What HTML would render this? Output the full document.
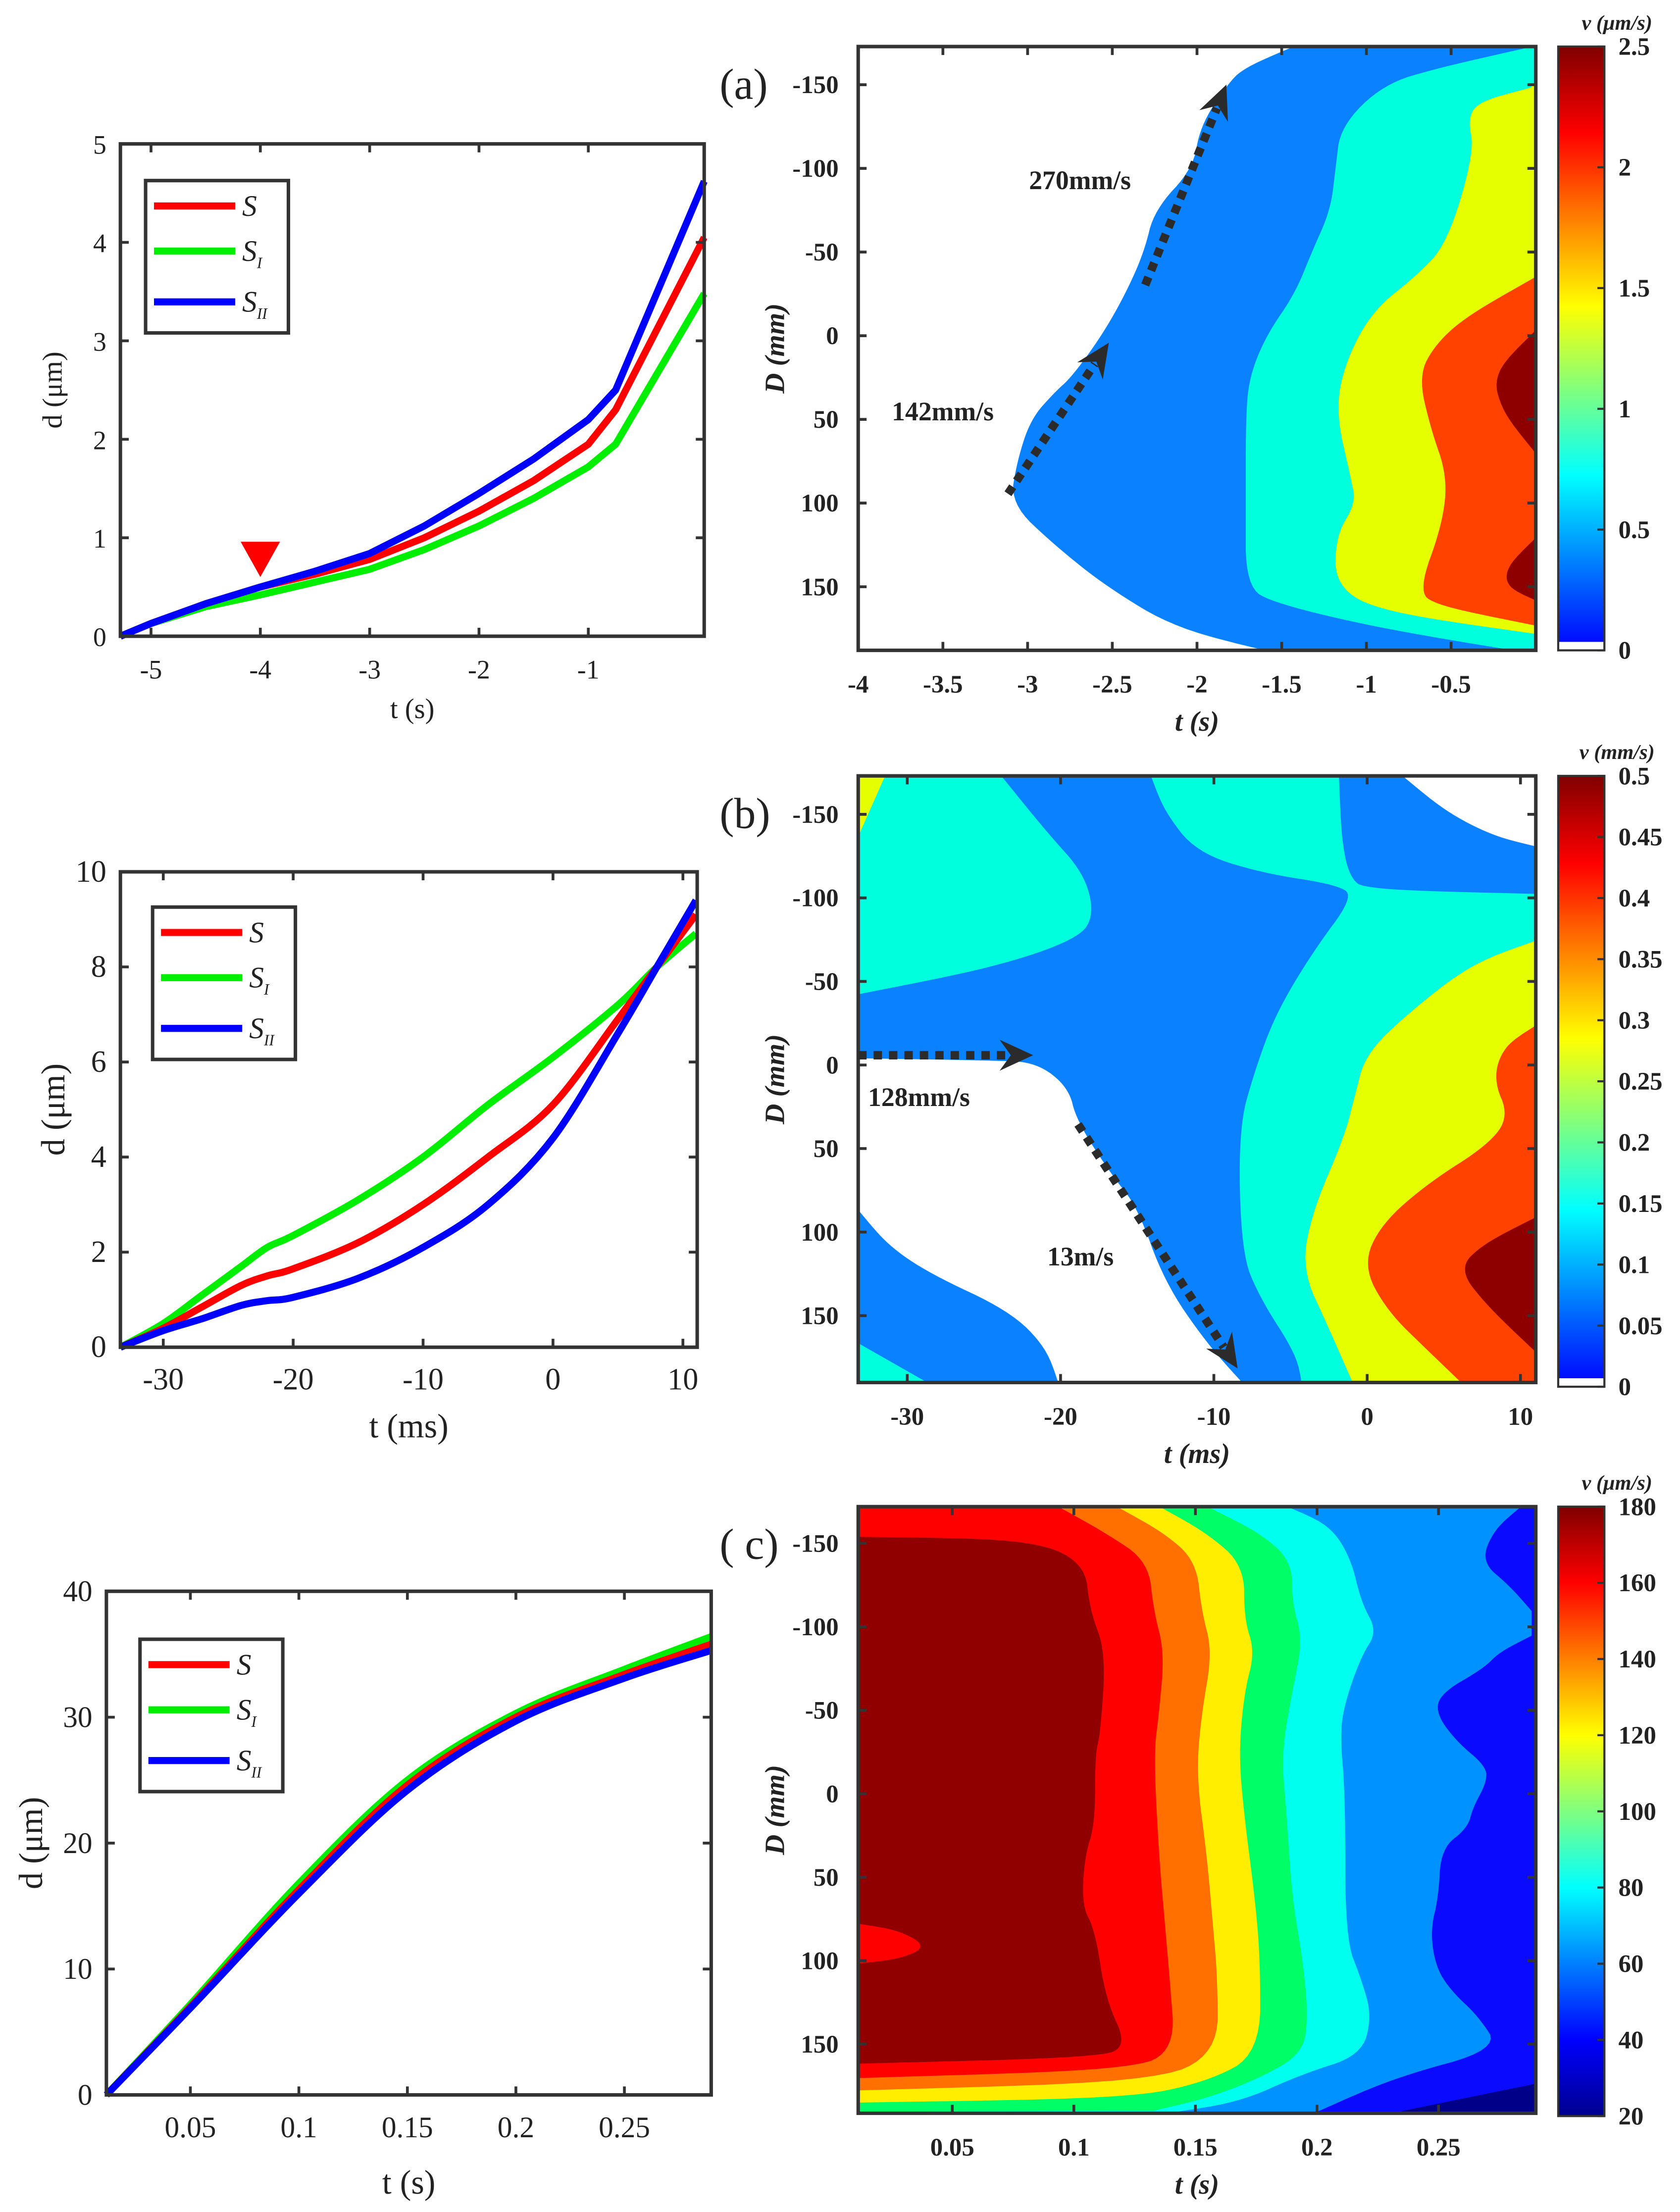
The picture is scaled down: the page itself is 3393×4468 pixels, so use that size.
<!DOCTYPE html>
<html><head><meta charset="utf-8">
<style>
html,body{margin:0;padding:0;background:#fff;}
svg{display:block;}
text{font-family:"Liberation Serif","Times New Roman",serif;fill:#222;}
</style></head>
<body>
<svg id="root" width="3393" height="4468" viewBox="0 0 1200 1568" preserveAspectRatio="none" xmlns="http://www.w3.org/2000/svg">
<defs>
<linearGradient id="jetA" x1="0" y1="1" x2="0" y2="0">
<stop offset="0" stop-color="#0000ff"/><stop offset="0.29" stop-color="#00ffff"/><stop offset="0.57" stop-color="#ffff00"/><stop offset="0.857" stop-color="#ff0000"/><stop offset="1" stop-color="#800000"/>
</linearGradient>
<linearGradient id="jetC" x1="0" y1="1" x2="0" y2="0">
<stop offset="0" stop-color="#00008f"/><stop offset="0.125" stop-color="#0000ff"/><stop offset="0.375" stop-color="#00ffff"/><stop offset="0.625" stop-color="#ffff00"/><stop offset="0.875" stop-color="#ff0000"/><stop offset="1" stop-color="#800000"/>
</linearGradient>
<clipPath id="clipA"><rect x="613" y="33" width="484" height="428"/></clipPath>
<clipPath id="clipB"><rect x="613" y="550" width="484" height="430"/></clipPath>
<clipPath id="clipC"><rect x="613" y="1068" width="484" height="430"/></clipPath>
</defs>
</svg>
<script>
// ---------- line chart data ----------
const l1T   = [-5.28,-5,-4.5,-4,-3.5,-3,-2.5,-2,-1.5,-1,-0.75,0.06];
const l1S   = [0,0.13,0.33,0.5,0.63,0.78,1.0,1.27,1.58,1.95,2.3,4.05];
const l1SI  = [0,0.13,0.3,0.42,0.55,0.68,0.88,1.12,1.4,1.72,1.95,3.48];
const l1SII = [0,0.13,0.33,0.5,0.66,0.84,1.12,1.45,1.8,2.2,2.5,4.62];
const l1XTicks = [-5,-4,-3,-2,-1];
const l1YTicks = [0,1,2,3,4,5];

const l2T   = [-33.3,-30,-27,-24,-22,-20,-15,-10,-5,0,5,8,11];
const l2S   = [0,0.4,0.85,1.3,1.5,1.65,2.2,3.0,4.0,5.1,6.9,8.0,9.1];
const l2SI  = [0,0.5,1.1,1.7,2.1,2.35,3.1,4.0,5.1,6.1,7.2,8.0,8.7];
const l2SII = [0,0.35,0.6,0.88,0.98,1.05,1.45,2.1,3.0,4.4,6.6,8.0,9.4];
const l2XTicks = [-30,-20,-10,0,10];
const l2YTicks = [0,2,4,6,8,10];

const l3T   = [0.0113,0.05,0.1,0.15,0.2,0.25,0.29];
const l3S   = [0,7,16.3,24.6,30,33.4,35.8];
const l3SI  = [0,7.2,16.8,25.0,30.3,33.8,36.4];
const l3SII = [0,6.9,16.0,24.2,29.7,33.1,35.3];
const l3XTicks = [0.05,0.1,0.15,0.2,0.25];
const l3YTicks = [0,10,20,30,40];

// ---------- contour panel (a) boundaries: t at D ----------
const aBlueD = [-173,-160,-150,-125,-100,-75,-50,-25,0,25,34,50,75,100,125,150,175,190];
const aBlueT = [-1.42,-1.72,-1.82,-1.98,-2.02,-2.25,-2.31,-2.42,-2.56,-2.74,-2.84,-2.98,-3.06,-3.10,-2.84,-2.53,-2.12,-1.51];
const aCyanD = [-173,-160,-150,-125,-100,-75,-50,-25,0,25,50,100,150,160,175,190];
const aCyanT = [0,-0.57,-0.90,-1.15,-1.18,-1.21,-1.32,-1.42,-1.59,-1.69,-1.71,-1.71,-1.71,-1.53,-0.90,0];
const aYelD = [-152,-148,-140,-130,-110,-55,-35,-15,15,45,85,100,120,150,165,178];
const aYelT = [0,-0.03,-0.33,-0.40,-0.36,-0.52,-0.71,-0.96,-1.12,-1.18,-1.09,-1.06,-1.18,-1.18,-0.90,0];
const aOrD = [-35,-12,5,24,55,84,113,152,161,173];
const aOrT = [0,-0.40,-0.59,-0.69,-0.62,-0.52,-0.55,-0.69,-0.59,0];
const aDr1D = [-3,22,45,70];
const aDr1T = [0,-0.25,-0.2,0];
const aDr2D = [121,138,150,158];
const aDr2T = [0,-0.17,-0.17,0];
const aXTicks = [-4,-3.5,-3,-2.5,-2,-1.5,-1,-0.5];
const dTicks = [-150,-100,-50,0,50,100,150];
const aCbTicks = [0,0.5,1,1.5,2,2.5];

// ---------- contour panel (b) polygons ----------
const bBlueT = [-23.84,-14.13,-13.26,-11.18,-7.02,-1.82,-0.95,-3.55,-5.98,-7.37,-8.41,-8.23,-7.02,-4.59,-4.25,-33.2,-33.2,-24.36,-18.81,-17.77,-18.46,-20.89];
const bBlueD = [-173,-173,-152,-127.3,-114.9,-107.5,-100.1,-68,-30.9,3.7,38.2,112.3,139.5,174.1,193,193,-42.1,-58.1,-75.4,-90.2,-114.9,-139.6];
const bWhiteT = [-33.2,-24.36,-21.58,-19.50,-18.98,-16.73,-15.0,-13.26,-10.49,-7.89,-20.02,-20.89,-23.32,-28.52,-31.29,-33.2];
const bWhiteD = [-3.8,-2.5,-1.3,13.5,33.3,65.4,85.2,129.6,166.7,193,193,169.2,146.9,124.7,107.4,86.4];
const bCornerT = [-33.2,-28.17,-33.2];
const bCornerD = [166.7,193,193];
const bBlueTRT = [-1.82,2.34,5.11,8.24,11.01,11.01,-0.09,-1.13,-1.65];
const bBlueTRD = [-173,-173,-152,-137.2,-131,-102.6,-105.1,-112.5,-134.7];
const bWhiteTRT = [2.34,11.01,11.01,8.24,5.11];
const bWhiteTRD = [-173,-173,-131,-137.2,-152];
const bYelTLT = [-33.2,-31.47,-33.2];
const bYelTLD = [-173,-173,-137.2];
const bYelT = [11.01,6.85,2.69,-0.09,-0.78,-1.47,-3.55,-4.25,-2.51,-0.78,11.01];
const bYelD = [-74.2,-60.6,-30.9,-6.2,18.5,43.2,87.6,122.2,156.8,193,193];
const bOrT = [11.01,8.93,8.24,9.28,7.89,4.07,0.95,-0.26,1.3,4.07,6.5,11.01];
const bOrD = [-23.5,-11.2,8.6,30.8,48.1,70.3,95,119.8,146.9,171.6,193,193];
const bDrT = [11.01,7.54,5.98,7.89,11.01];
const bDrD = [91.3,107.4,122.2,144.5,171.6];
const bXTicks = [-30,-20,-10,0,10];
const bCbTicks = [0,0.05,0.1,0.15,0.2,0.25,0.3,0.35,0.4,0.45,0.5];

// ---------- contour panel (c) polygons ----------
const cNavyT = [0.2312,0.2903,0.2903];
const cNavyD = [191.4,173.8,191.4];
const cLbT = [0.0113,0.2837,0.2728,0.2673,0.2793,0.2881,0.2881,0.2749,0.2684,0.2509,0.2487,0.2574,0.2695,0.2695,0.2640,0.2618,0.2509,0.2498,0.2465,0.2487,0.2553,0.2662,0.2749,0.2312,0.1984,0.0113];
const cLbD = [-172,-172,-158.6,-139,-124.2,-109.5,-94.8,-85,-75.2,-60.5,-48.2,-31,-16.3,-6.5,8.2,20.5,32.7,62.2,81.8,103.9,118.6,133.3,152.9,170.1,191.4,191.4];
const cCyT = [0.0113,0.1874,0.2049,0.2137,0.2181,0.2246,0.2181,0.2115,0.2093,0.2115,0.2115,0.2181,0.2224,0.2181,0.1940,0.1677,0.1371,0.0113];
const cCyD = [-172,-172,-161,-141.4,-114.4,-97.3,-82.5,-55.6,-35.9,0.8,86.7,111.2,133.3,156.6,167.6,184.8,191.4,191.4];
const cGrT = [0.0113,0.1546,0.1765,0.1896,0.1896,0.1940,0.1896,0.1852,0.1874,0.1896,0.1940,0.1962,0.1940,0.1765,0.1546,0.1327,0.0113];
const cGrD = [-172,-172,-156.1,-139,-114.4,-92.4,-60.5,-23.7,13.1,62.2,99,133.3,155.4,170.1,182.3,189.7,190.2];
const cYeT = [0.0113,0.1349,0.1546,0.1699,0.1699,0.1743,0.1699,0.1677,0.1699,0.1743,0.1765,0.1765,0.1546,0.1218,0.0113];
const cYeD = [-172,-172,-156.1,-136.5,-104.6,-85,-60.5,-23.7,13.1,62.2,99,155.4,172.5,182.3,184.8];
const cOrT = [0.0113,0.1174,0.1371,0.1502,0.1524,0.1568,0.1524,0.1502,0.1546,0.1568,0.1590,0.1590,0.1327,0.0113];
const cOrD = [-172,-172,-156.1,-139,-109.5,-85,-48.2,-11.4,37.6,74.4,111.2,155.4,172.5,177.5];
const cReT = [0.0113,0.0933,0.1130,0.1305,0.1327,0.1371,0.1349,0.1327,0.1349,0.1371,0.1393,0.1415,0.1240,0.0113];
const cReD = [-172,-172,-156.1,-139,-109.5,-85,-48.2,-23.7,37.6,74.4,111.2,152.9,165.2,170.1];
const cDrT = [0.0113,0.0802,0.1043,0.1065,0.1130,0.1108,0.1086,0.1086,0.1043,0.1032,0.1086,0.1130,0.1218,0.1108,0.0113];
const cDrD = [-153.7,-152.5,-139,-109.5,-85,-35.9,-23.7,18,37.6,67.1,81.8,123.5,150.5,157.8,161.5];
const cIsT = [0.0113,0.0277,0.0397,0.0277,0.0113];
const cIsD = [78.1,81.8,91.6,99,101.4];
const cXTicks = [0.05,0.1,0.15,0.2,0.25];
const cCbTicks = [20,40,60,80,100,120,140,160,180];

// ---------- helpers ----------
const NS = 'http://www.w3.org/2000/svg';
const FONT = '"Liberation Serif", "Times New Roman", serif';
const root = document.getElementById('root');
function mk(tag, attrs, parent){
  const e = document.createElementNS(NS, tag);
  for (const k in attrs) e.setAttribute(k, attrs[k]);
  (parent||root).appendChild(e);
  return e;
}
function scale(d0,d1,p0,p1){ return v => p0 + (v-d0)/(d1-d0)*(p1-p0); }
function txt(x,y,s,size,opts,parent){
  const e = mk('text', Object.assign({x:x,y:y,'font-size':size}, opts||{}), parent);
  e.style.fontFamily = FONT;
  e.textContent = s;
  return e;
}
function smoothPath(P){
  let d = 'M'+P[0][0].toFixed(2)+','+P[0][1].toFixed(2);
  for (let i=0;i<P.length-1;i++){
    const p0=P[Math.max(i-1,0)], p1=P[i], p2=P[i+1], p3=P[Math.min(i+2,P.length-1)];
    const c1=[p1[0]+(p2[0]-p0[0])/6, p1[1]+(p2[1]-p0[1])/6];
    const c2=[p2[0]-(p3[0]-p1[0])/6, p2[1]-(p3[1]-p1[1])/6];
    d += 'C'+c1[0].toFixed(2)+','+c1[1].toFixed(2)+' '+c2[0].toFixed(2)+','+c2[1].toFixed(2)+' '+p2[0].toFixed(2)+','+p2[1].toFixed(2);
  }
  return d;
}
function linePath(P){ return P.map((p,i)=>(i?'L':'M')+p[0].toFixed(2)+','+p[1].toFixed(2)).join(''); }

// ---------- line chart ----------
function lineChart(cfg){
  const g = mk('g', {});
  
  
  const sx = scale(cfg.tmin,cfg.tmax,cfg.x0,cfg.x1);
  const sy = scale(cfg.dmin,cfg.dmax,cfg.y1,cfg.y0);
  const series = [[cfg.S,'#ff0000','series-s'],[cfg.SI,'#00ee00','series-s1'],[cfg.SII,'#0000ff','series-s2']];
  for (const i of [1,0,2]){
    const [vals,col,nm] = series[i];
    const P = cfg.T.map((t,k)=>[sx(t), sy(vals[k])]);
    const p = mk('path', {d:cfg.linear?linePath(P):smoothPath(P), fill:'none', stroke:col, 'stroke-width':5, 'stroke-linejoin':'round'}, g);
    
    
  }
  const box = mk('rect', {x:cfg.x0,y:cfg.y0,width:cfg.x1-cfg.x0,height:cfg.y1-cfg.y0,fill:'none',stroke:'#333','stroke-width':2.5}, g);
  
  
  cfg.xt.forEach(v=>{
    const x = sx(v);
    mk('line',{x1:x,x2:x,y1:cfg.y1,y2:cfg.y1-6,stroke:'#333','stroke-width':2},g);
    mk('line',{x1:x,x2:x,y1:cfg.y0,y2:cfg.y0+6,stroke:'#333','stroke-width':2},g);
    const t = txt(x, cfg.y1+30, String(v), cfg.tickSize, {'text-anchor':'middle'}, g);
    
    
  });
  cfg.yt.forEach(v=>{
    const y = sy(v);
    mk('line',{x1:cfg.x0,x2:cfg.x0+6,y1:y,y2:y,stroke:'#333','stroke-width':2},g);
    mk('line',{x1:cfg.x1,x2:cfg.x1-6,y1:y,y2:y,stroke:'#333','stroke-width':2},g);
    const t = txt(cfg.x0-10, y+7, String(v), cfg.tickSize, {'text-anchor':'end'}, g);
    
    
  });
  const xt = txt((cfg.x0+cfg.x1)/2, cfg.y1+cfg.xlabOff, cfg.xlab, cfg.labSize, {'text-anchor':'middle'}, g);
  
  
  const yx = cfg.x0-cfg.ylabOff, yy=(cfg.y0+cfg.y1)/2;
  const ytl = txt(yx, yy, 'd (μm)', cfg.labSize, {'text-anchor':'middle', transform:'rotate(-90 '+yx+' '+yy+')'}, g);
  
  
  const L = cfg.leg;
  const lg = mk('g', {}, g);
  
  
  mk('rect',{x:L.x,y:L.y,width:102,height:108,fill:'#fff',stroke:'#333','stroke-width':2.5},lg);
  const ent = [['#ff0000','S',''],['#00ee00','S','I'],['#0000ff','S','II']];
  const ys=[18,50,86];
  ent.forEach((e,i)=>{
    const yy2 = L.y+ys[i];
    const ln = mk('line',{x1:L.x+6,x2:L.x+64,y1:yy2,y2:yy2,stroke:e[0],'stroke-width':5},lg);
    
    
    const t = txt(L.x+69, yy2+7, e[1], 21, {'font-style':'italic'}, lg);
    
    
    if (e[2]){ const ts = mk('tspan',{dy:5,'font-size':11},t); ts.textContent = e[2]; }
  });
  return {g,sx,sy};
}

const c1 = lineChart({name:'chart-displacement-a',linear:true,x0:86,x1:503,y0:102,y1:451,tmin:-5.28,tmax:0.06,dmin:0,dmax:5,
  T:l1T,S:l1S,SI:l1SI,SII:l1SII,xt:l1XTicks,yt:l1YTicks,xlab:'t (s)',xlabOff:58,ylabOff:42,labSize:20,tickSize:19,leg:{x:104,y:128}});
const tri = mk('polygon',{points:[c1.sx(-4.18),384,c1.sx(-3.82),384,c1.sx(-4),409].join(','),fill:'#ff0000'},c1.g);



lineChart({name:'chart-displacement-b',x0:86,x1:498,y0:618,y1:955,tmin:-33.3,tmax:11.1,dmin:0,dmax:10,
  T:l2T,S:l2S,SI:l2SI,SII:l2SII,xt:l2XTicks,yt:l2YTicks,xlab:'t (ms)',xlabOff:64,ylabOff:40,labSize:24,tickSize:22,leg:{x:109,y:643}});
lineChart({name:'chart-displacement-c',x0:76,x1:508,y0:1128,y1:1485,tmin:0.0113,tmax:0.29,dmin:0,dmax:40,
  T:l3T,S:l3S,SI:l3SI,SII:l3SII,xt:l3XTicks,yt:l3YTicks,xlab:'t (s)',xlabOff:70,ylabOff:46,labSize:24,tickSize:21,leg:{x:100,y:1162}});

// ---------- contour charts ----------
function contourAxes(cfg){
  const g = mk('g', {});
  
  
  const sx = scale(cfg.tmin,cfg.tmax,cfg.x0,cfg.x1);
  const sy = scale(cfg.dmin,cfg.dmax,cfg.y0,cfg.y1);
  const fill = mk('g',{'clip-path':'url(#'+cfg.clip+')'},g);
  
  
  return {g,sx,sy,fill,cfg};
}
function smoothPoly(P, fixed){
  let pts = P.map((p,i)=>({x:p[0],y:p[1],f:fixed[i]}));
  for (let it=0; it<3; it++){
    const out=[], n=pts.length;
    for (let i=0;i<n;i++){
      const p=pts[i], q=pts[(i+1)%n];
      if (p.f) out.push(p);
      if (!(p.f && q.f)){
        if (!p.f) out.push({x:0.75*p.x+0.25*q.x, y:0.75*p.y+0.25*q.y, f:false});
        if (!q.f) out.push({x:0.25*p.x+0.75*q.x, y:0.25*p.y+0.75*q.y, f:false});
      }
    }
    pts = out;
  }
  return pts.map(p=>p.x.toFixed(2)+','+p.y.toFixed(2)).join(' ');
}
function poly(ax, T, D, color, nm){
  const c = ax.cfg, e=0.02*(c.tmax-c.tmin);
  const fixed = T.map((t,i)=> t<=c.tmin+e || t>=c.tmax-e || D[i]<=c.dmin+3 || D[i]>=c.dmax-3);
  const P = T.map((t,i)=>[ax.sx(t), ax.sy(D[i])]);
  const p = mk('polygon',{points:smoothPoly(P,fixed), fill:color, stroke:color, 'stroke-width':0.5}, ax.fill);
  
  
}
function bandRight(ax, T, D, color, nm){
  const t = T.slice(), d = D.slice();
  t.push(ax.cfg.tmax+1, ax.cfg.tmax+1); d.push(D[D.length-1], D[0]);
  poly(ax, t, d, color, nm);
}
function finishAxes(ax, xt, cb){
  const c = ax.cfg, g = ax.g;
  const fr = mk('rect',{x:c.x0,y:c.y0,width:c.x1-c.x0,height:c.y1-c.y0,fill:'none',stroke:'#333','stroke-width':2.5},g);
  
  
  xt.forEach(v=>{
    const x = ax.sx(v);
    mk('line',{x1:x,x2:x,y1:c.y1,y2:c.y1-6,stroke:'#333','stroke-width':2},g);
    mk('line',{x1:x,x2:x,y1:c.y0,y2:c.y0+6,stroke:'#333','stroke-width':2},g);
    const t = txt(x, c.y1+30, String(v), 18, {'text-anchor':'middle','font-weight':'bold'}, g);
    
    
  });
  dTicks.forEach(v=>{
    const y = ax.sy(v);
    mk('line',{x1:c.x0,x2:c.x0+6,y1:y,y2:y,stroke:'#333','stroke-width':2},g);
    mk('line',{x1:c.x1,x2:c.x1-6,y1:y,y2:y,stroke:'#333','stroke-width':2},g);
    const t = txt(c.x0-14, y+6, String(v), 18, {'text-anchor':'end','font-weight':'bold'}, g);
    
    
  });
  const xtl = txt((c.x0+c.x1)/2, c.y1+57, c.xlab, 20, {'text-anchor':'middle','font-weight':'bold','font-style':'italic'}, g);
  
  
  const yx=560, yy=(c.y0+c.y1)/2;
  const ytl = txt(yx, yy, 'D (mm)', 20, {'text-anchor':'middle','font-weight':'bold','font-style':'italic',transform:'rotate(-90 '+yx+' '+yy+')'}, g);
  
  
  const pl = txt(514, c.y0+37, c.panel, 31, {}, g);
  
  
  const cg = mk('g',{},g);
  
  
  const cbx=1113, cbw=33;
  const cs = scale(cb.min, cb.max, cb.y1, cb.y0);
  mk('rect',{x:cbx,y:cb.y0,width:cbw,height:cb.y1-cb.y0,fill:'url(#'+cb.grad+')'},cg);
  if (cb.white) mk('rect',{x:cbx,y:cb.y1-6,width:cbw,height:6,fill:'#fff'},cg);
  mk('rect',{x:cbx,y:cb.y0,width:cbw,height:cb.y1-cb.y0,fill:'none',stroke:'#333','stroke-width':1.5},cg);
  cb.ticks.forEach(v=>{
    const y = cs(v);
    mk('line',{x1:cbx+cbw-5,x2:cbx+cbw,y1:y,y2:y,stroke:'#333','stroke-width':1.5},cg);
    const t = txt(cbx+cbw+10, y+6, String(v), 18, {'font-weight':'bold'}, cg);
    
    
  });
  const ct = txt(1155, cb.y0-12, cb.title, 15, {'text-anchor':'middle','font-weight':'bold','font-style':'italic'}, cg);
  
  
}
function arrow(x1,y1,x2,y2,nm){
  const g = mk('g',{});
  
  
  const dx=x2-x1, dy=y2-y1, L=Math.hypot(dx,dy), ux=dx/L, uy=dy/L;
  const bx=x2-ux*18, by=y2-uy*18;
  mk('line',{x1:x1,y1:y1,x2:bx,y2:by,stroke:'#2b2b2b','stroke-width':6,'stroke-dasharray':'6 5'},g);
  const px=-uy, py=ux;
  const pts=[x2,y2, bx-ux*6+px*11,by-uy*6+py*11, bx+ux*2,by+uy*2, bx-ux*6-px*11,by-uy*6-py*11];
  mk('polygon',{points:pts.map(v=>v.toFixed(1)).join(','),fill:'#2b2b2b'},g);
}
function note(x,y,s){
  const t = txt(x,y,s,19,{'font-weight':'bold'});
  
  
}

// panel a
const A = contourAxes({name:'contour-panel-a',clip:'clipA',x0:613,x1:1097,y0:33,y1:461,tmin:-4,tmax:0,dmin:-172.8,dmax:188,xlab:'t (s)',panel:'(a)'});
bandRight(A, aBlueT, aBlueD, '#0a82ff', 'level-blue');
bandRight(A, aCyanT, aCyanD, '#00ffdc', 'level-cyan');
bandRight(A, aYelT, aYelD, '#e6ff00', 'level-yellow');
bandRight(A, aOrT, aOrD, '#ff4200', 'level-orange');
bandRight(A, aDr1T, aDr1D, '#8e0000', 'level-darkred-1');
bandRight(A, aDr2T, aDr2D, '#8e0000', 'level-darkred-2');
finishAxes(A, aXTicks, {y0:33,y1:461,min:0,max:2.5,ticks:aCbTicks,grad:'jetA',white:true,title:'v (μm/s)'});
arrow(720,350,792,243,'arrow-142');
arrow(818,202,876,60,'arrow-270');
note(735,134,'270mm/s'); note(637,298,'142mm/s');

// panel b
const B = contourAxes({name:'contour-panel-b',clip:'clipB',x0:613,x1:1097,y0:550,y1:980,tmin:-33.2,tmax:11.0,dmin:-173,dmax:190,xlab:'t (ms)',panel:'(b)'});
poly(B,[-40,20,20,-40],[-200,-200,200,200],'#00ffdc','level-cyan');
poly(B,bBlueT,bBlueD,'#0a82ff','level-blue-main');
poly(B,bWhiteT,bWhiteD,'#ffffff','level-white-bottom');
poly(B,bCornerT,bCornerD,'#00ffdc','level-cyan-corner');
poly(B,bBlueTRT,bBlueTRD,'#0a82ff','level-blue-topright');
poly(B,bWhiteTRT,bWhiteTRD,'#ffffff','level-white-topright');
poly(B,bYelTLT,bYelTLD,'#e6ff00','level-yellow-corner');
poly(B,bYelT,bYelD,'#e6ff00','level-yellow');
poly(B,bOrT,bOrD,'#ff4200','level-orange');
poly(B,bDrT,bDrD,'#8e0000','level-darkred');
finishAxes(B, bXTicks, {y0:550,y1:983,min:0,max:0.5,ticks:bCbTicks,grad:'jetA',white:true,title:'v (mm/s)'});
arrow(613,748,738,748,'arrow-128');
arrow(770,797,884,970,'arrow-13');
note(620,784,'128mm/s'); note(748,897,'13m/s');

// panel c
const C = contourAxes({name:'contour-panel-c',clip:'clipC',x0:613,x1:1097,y0:1068,y1:1498,tmin:0.0113,tmax:0.29,dmin:-172,dmax:191.4,xlab:'t (s)',panel:'( c)'});
poly(C,[-1,1,1,-1],[-200,-200,200,200],'#0a0aff','level-blue');
poly(C,cNavyT,cNavyD,'#000088','level-navy');
poly(C,cLbT,cLbD,'#0092ff','level-lightblue');
poly(C,cCyT,cCyD,'#00ffee','level-cyan');
poly(C,cGrT,cGrD,'#00ff66','level-green');
poly(C,cYeT,cYeD,'#ffee00','level-yellow');
poly(C,cOrT,cOrD,'#ff7000','level-orange');
poly(C,cReT,cReD,'#ff0000','level-red');
poly(C,cDrT,cDrD,'#900000','level-darkred');
poly(C,cIsT,cIsD,'#ff0000','level-red-island');
finishAxes(C, cXTicks, {y0:1068,y1:1500,min:20,max:180,ticks:cCbTicks,grad:'jetC',white:false,title:'v (μm/s)'});
</script>
</body></html>
